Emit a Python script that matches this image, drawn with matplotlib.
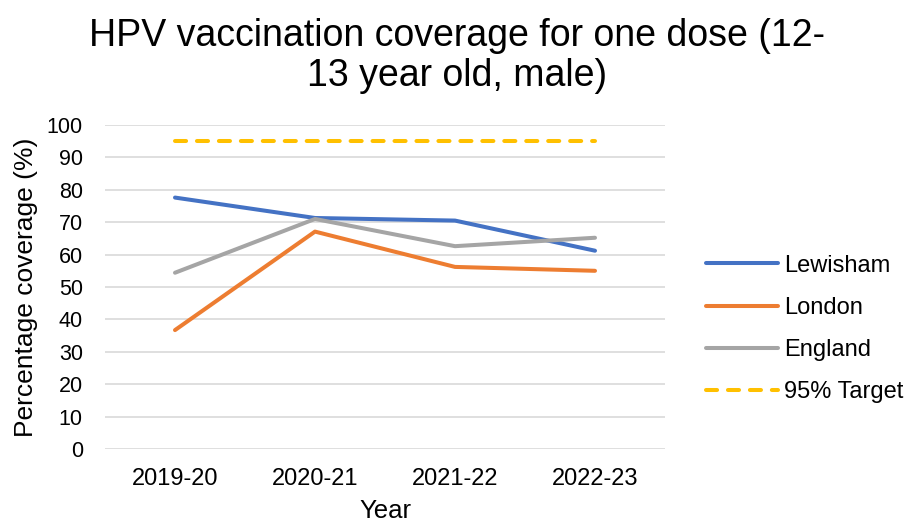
import matplotlib
matplotlib.use("Agg")
import matplotlib.pyplot as plt

plt.rcParams['font.family'] = ['Liberation Sans', 'DejaVu Sans']

years = ["2019-20", "2020-21", "2021-22", "2022-23"]
lewisham = [77.6, 71.3, 70.5, 61.2]
london = [36.7, 67.1, 56.2, 55.0]
england = [54.4, 71.0, 62.6, 65.2]
target = [95, 95, 95, 95]
yticks = list(range(0, 101, 10))

W, H = 910, 522
fig = plt.figure(figsize=(W / 100, H / 100), dpi=100)
ax = fig.add_axes([105 / W, 1 - 449 / H, (665 - 105) / W, (449 - 125) / H])

lw = 2.9
x = list(range(len(years)))
ax.plot(x, lewisham, color="#4472C4", lw=lw, solid_capstyle="round", solid_joinstyle="round", label="Lewisham")
ax.plot(x, london, color="#ED7D31", lw=lw, solid_capstyle="round", solid_joinstyle="round", label="London")
ax.plot(x, england, color="#A5A5A5", lw=lw, solid_capstyle="round", solid_joinstyle="round", label="England")
ax.plot(x, target, color="#FFC000", lw=lw, dashes=(2.75, 2.7), dash_capstyle="round", label="95% Target")

ax.set_xlim(-0.5, len(years) - 0.5)
ax.set_ylim(0, 100)
ax.set_yticks(yticks)
ax.set_xticks(x)
ax.set_xticklabels(years, fontsize=17)
ax.tick_params(axis="y", labelsize=15.5, length=0, pad=16)
ax.tick_params(axis="x", length=0, pad=14)
ax.grid(axis="y", color="#D9D9D9", lw=1.2)
ax.set_axisbelow(True)
for s in ax.spines.values():
    s.set_visible(False)

ax.set_ylabel("Percentage coverage (%)", fontsize=19, labelpad=6)
ax.set_xlabel("Year", fontsize=18.5, labelpad=6)

fig.suptitle("HPV vaccination coverage for one dose (12-\n13 year old, male)",
             fontsize=27, x=0.502, y=0.966, va="top", linespacing=1.15)

leg = ax.legend(loc="center left", bbox_to_anchor=((706 - 105) / 560, (449 - 329) / 324),
                frameon=False, fontsize=17, handlelength=3.05, handletextpad=0.25,
                labelspacing=0.86, borderpad=0, borderaxespad=0)

fig.savefig("out.png", dpi=100)
